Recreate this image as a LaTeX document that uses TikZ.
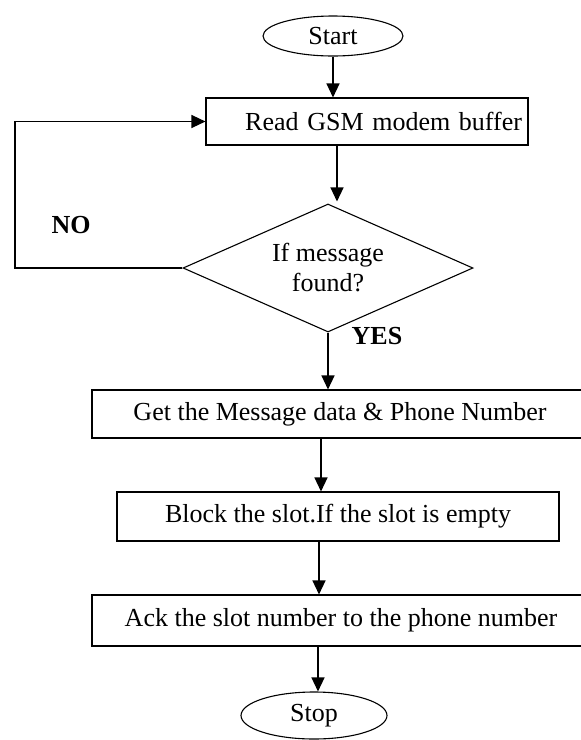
\documentclass[tikz,border=0pt]{standalone}
\usepackage{fontspec}
\setmainfont{Liberation Serif}
\usetikzlibrary{shapes.geometric,arrows.meta}

\begin{document}
\begin{tikzpicture}[x=1pt,y=-1pt,
		txt/.style={font=\fontsize{26}{30}\selectfont},
		box/.style={draw,rectangle,line width=1.1pt,inner sep=0pt,txt},
		term/.style={draw,ellipse,line width=1.1pt,inner sep=0pt,txt},
		arr/.style={line width=1.3pt,-{Triangle[width=13pt,length=14pt]}},
		lbl/.style={font=\fontsize{26}{30}\selectfont\bfseries}]
		\useasboundingbox (0,0) rectangle (581,740);
		\node [term,minimum width=140pt,minimum height=40pt] (start) at (333,36) {Start};
		\node [box,minimum width=322pt,minimum height=47pt,text width=310pt,align=right] (read) at (367,121.5) {Read GSM modem buffer};
		\node [draw,diamond,aspect=2.27,line width=1.1pt,inner sep=0pt,minimum width=290pt,minimum height=128pt,align=center,txt] (dec) at (328,268) {If message\\found?};
		\node [box,minimum width=496pt,minimum height=48pt] (get) at (340,414) {Get the Message data \& Phone Number};
		\node [box,minimum width=442pt,minimum height=49pt] (block) at (338,516.5) {Block the slot.If the slot is empty};
		\node [box,minimum width=498pt,minimum height=51pt] (ack) at (341,620.5) {Ack the slot number to the phone number};
		\node [term,minimum width=146pt,minimum height=47pt] (stop) at (314,715.5) {Stop};
		\node [lbl] (no) at (71,225) {NO};
		\node [lbl] (yes) at (377,336) {YES};
		\coordinate (back) at (15,268);
		\draw[arr] (start.south) -- (start.south |- read.north);
		\draw[arr] ([xshift=9pt]dec.north |- read.south) -- ([xshift=9pt,yshift=2pt]dec.north);
		\draw[arr] (dec.west) -- (back) |- (read.west);
		\draw[arr] (dec.south) -- (dec.south |- get.north);
		\draw[arr] ([xshift=-19pt]get.south) -- ([xshift=-19pt]get.south |- block.north);
		\draw[arr] ([xshift=-19pt]block.south) -- ([xshift=-19pt]block.south |- ack.north);
		\draw[arr] ([xshift=4pt]stop.north |- ack.south) -- ([xshift=4pt]stop.north);
	\end{tikzpicture}
\end{document}
